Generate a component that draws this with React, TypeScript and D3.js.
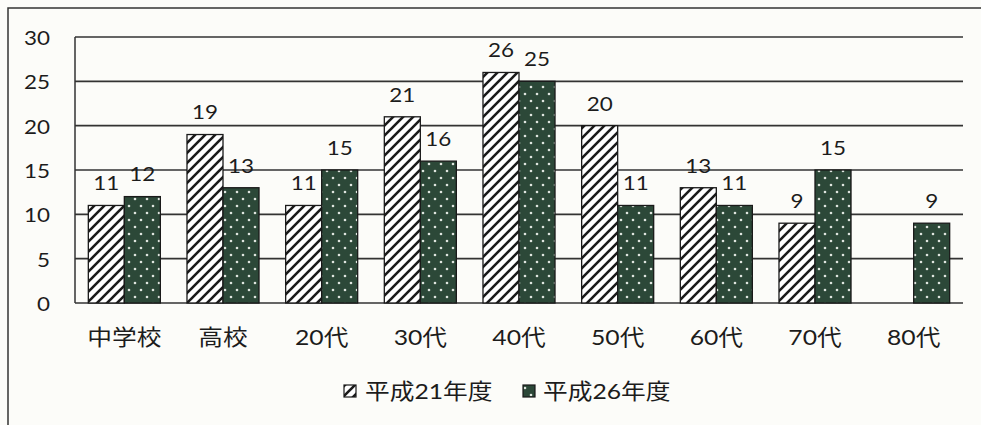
import React from "react";
import * as d3 from "d3";

const categories = ["中学校", "高校", "20代", "30代", "40代", "50代", "60代", "70代", "80代"];
const seriesNames = ["平成21年度", "平成26年度"];
const valuesH21: (number | null)[] = [11, 19, 11, 21, 26, 20, 13, 9, null];
const valuesH26: (number | null)[] = [12, 13, 15, 16, 25, 11, 11, 15, 9];
const yTicks = [0, 5, 10, 15, 20, 25, 30];

const W = 981;
const H = 425;
const plot = { left: 75, right: 963, top: 37, bottom: 303 };
const ink = "#1c1c1c";
const green = "#2c4838";
const font = "Lato, 'Noto Sans CJK JP', sans-serif";
const sx = 1.15;

function SText({ x, y, size, anchor = "middle", children }: any) {
  return (
    <text
      transform={`translate(${x},${y}) scale(${sx},1)`}
      fontSize={size}
      fontFamily={font}
      fill={ink}
      textAnchor={anchor}
      dominantBaseline="central"
    >
      {children}
    </text>
  );
}

export default function App() {
  const x0 = d3
    .scaleBand<string>()
    .domain(categories)
    .range([plot.left, plot.right])
    .paddingInner(0.27)
    .paddingOuter(0.135);
  const x1 = d3.scaleBand<string>().domain(seriesNames).range([0, x0.bandwidth()]);
  const y = d3.scaleLinear().domain([0, 30]).range([plot.bottom, plot.top]);

  const series = [
    { name: seriesNames[0], values: valuesH21, fill: "url(#hatch)" },
    { name: seriesNames[1], values: valuesH26, fill: "url(#dots)" },
  ];

  return (
    <svg
      width={W}
      height={H}
      style={{ position: "absolute", left: 0, top: 0, background: "#fcfcf9" }}
    >
      <defs>
        <pattern id="hatch" patternUnits="userSpaceOnUse" width={10} height={10}>
          <rect width={10} height={10} fill="#ffffff" />
          <path d="M-2,2 l4,-4 M0,10 l10,-10 M8,12 l4,-4" stroke="#1a1a1a" strokeWidth={2.6} />
        </pattern>
        <pattern id="dots" patternUnits="userSpaceOnUse" width={12} height={14}>
          <rect width={12} height={14} fill={green} />
          <circle cx={3} cy={3} r={1.3} fill="#dfe5df" />
          <circle cx={9} cy={10} r={1.3} fill="#dfe5df" />
        </pattern>
      </defs>

      {/* frame */}
      <path d={`M8,${H} V8 H${W}`} fill="none" stroke="#333" strokeWidth={1.5} />

      {/* gridlines */}
      {yTicks.map((t) => (
        <line
          key={t}
          x1={plot.left}
          x2={plot.right}
          y1={y(t)}
          y2={y(t)}
          stroke="#333"
          strokeWidth={1.6}
        />
      ))}
      <line x1={plot.left} x2={plot.left} y1={plot.top} y2={plot.bottom} stroke="#333" strokeWidth={1.5} />

      {yTicks.map((t) => (
        <SText key={t} x={50} y={y(t)} size={19.5} anchor="end">
          {t}
        </SText>
      ))}

      {/* bars */}
      {series.map((s) =>
        categories.map((c, i) => {
          const v = s.values[i];
          if (v == null) return null;
          const bx = (x0(c) as number) + (x1(s.name) as number);
          const bw = x1.bandwidth();
          return (
            <g key={s.name + c}>
              <rect
                x={bx}
                y={y(v)}
                width={bw}
                height={y(0) - y(v)}
                fill={s.fill}
                stroke="#1a1a1a"
                strokeWidth={1.3}
              />
              <SText x={bx + bw / 2} y={y(v) - 23} size={19.5}>
                {v}
              </SText>
            </g>
          );
        })
      )}

      {/* category labels */}
      {categories.map((c) => (
        <SText key={c} x={(x0(c) as number) + x0.bandwidth() / 2} y={337} size={21.5}>
          {c}
        </SText>
      ))}

      {/* legend */}
      <rect x={344} y={385} width={12} height={12} fill="url(#hatch)" stroke="#1a1a1a" strokeWidth={1.2} />
      <SText x={365} y={391} size={21.5} anchor="start">
        {seriesNames[0]}
      </SText>
      <rect x={523} y={385} width={12} height={12} fill="url(#dots)" stroke="#1a1a1a" strokeWidth={1.2} />
      <SText x={543} y={391} size={21.5} anchor="start">
        {seriesNames[1]}
      </SText>
    </svg>
  );
}
